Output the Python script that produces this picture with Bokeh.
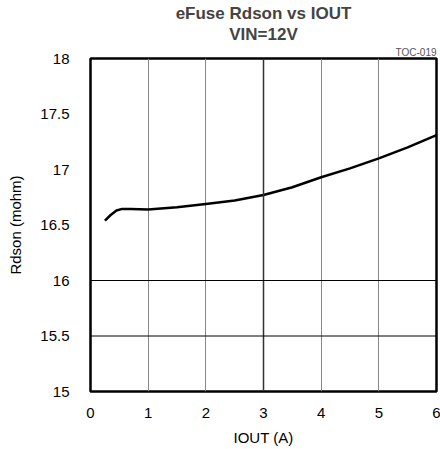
from bokeh.plotting import figure
from bokeh.models import Range1d, FixedTicker, Span, Title
from bokeh.embed import file_html
from bokeh.resources import INLINE

iout = [0.25, 0.35, 0.45, 0.55, 0.7, 1.0, 1.5, 2.0, 2.5, 3.0, 3.5, 4.0, 4.5, 5.0, 5.5, 6.0]
rdson = [16.54, 16.59, 16.63, 16.645, 16.645, 16.64, 16.66, 16.69, 16.72, 16.77, 16.84, 16.93, 17.01, 17.10, 17.20, 17.31]
x_ticks = [0, 1, 2, 3, 4, 5, 6]
y_ticks = [15, 15.5, 16, 16.5, 17, 17.5, 18]
y_tick_labels = ["15", "15.5", "16", "16.5", "17", "17.5", "18"]
h_lines = [16, 15.5]

FONT = "Liberation Sans"

p = figure(width=440, height=449, output_backend="svg", toolbar_location=None, title=None,
           x_range=Range1d(0, 6), y_range=Range1d(15, 18),
           min_border_left=90, min_border_right=4, min_border_top=58, min_border_bottom=58)

p.outline_line_color = "black"
p.outline_line_width = 2.5

for ax in (p.xaxis[0], p.yaxis[0]):
    ax.axis_line_color = None
    ax.major_tick_line_color = None
    ax.minor_tick_line_color = None
    ax.major_label_text_font = FONT
    ax.major_label_text_font_size = "15px"
    ax.major_label_text_color = "black"
    ax.axis_label_text_font = FONT
    ax.axis_label_text_font_size = "15px"
    ax.axis_label_text_font_style = "normal"
    ax.axis_label_text_color = "black"

p.xaxis.ticker = FixedTicker(ticks=x_ticks)
p.yaxis.ticker = FixedTicker(ticks=y_ticks)
p.yaxis.major_label_overrides = {t: l for t, l in zip(y_ticks, y_tick_labels)}
p.xaxis.axis_label = "IOUT (A)"
p.yaxis.axis_label = "Rdson (mohm)"
p.xaxis.major_label_standoff = 10
p.yaxis.major_label_standoff = 15
p.xaxis.axis_label_standoff = 8
p.yaxis.axis_label_standoff = 13

p.xgrid.ticker = FixedTicker(ticks=[1, 2, 4, 5])
p.xgrid.grid_line_color = "#888888"
p.xgrid.grid_line_width = 1
p.ygrid.grid_line_color = None

p.add_layout(Span(location=3, dimension="height", line_color="#333333", line_width=1.5))
for h in h_lines:
    p.add_layout(Span(location=h, dimension="width", line_color="black", line_width=1))

p.line(iout, rdson, line_color="black", line_width=2.5)

p.add_layout(Title(text="TOC-019", align="right", text_font=FONT, text_font_size="10px",
                   text_font_style="normal", text_color="#555555", standoff=2), "above")
p.add_layout(Title(text="VIN=12V", align="center", text_font=FONT, text_font_size="17px",
                   text_font_style="bold", standoff=0), "above")
p.add_layout(Title(text="eFuse Rdson vs IOUT", align="center", text_font=FONT, text_font_size="17px",
                   text_font_style="bold", standoff=0), "above")

open("out.html", "w").write(file_html(p, INLINE))
